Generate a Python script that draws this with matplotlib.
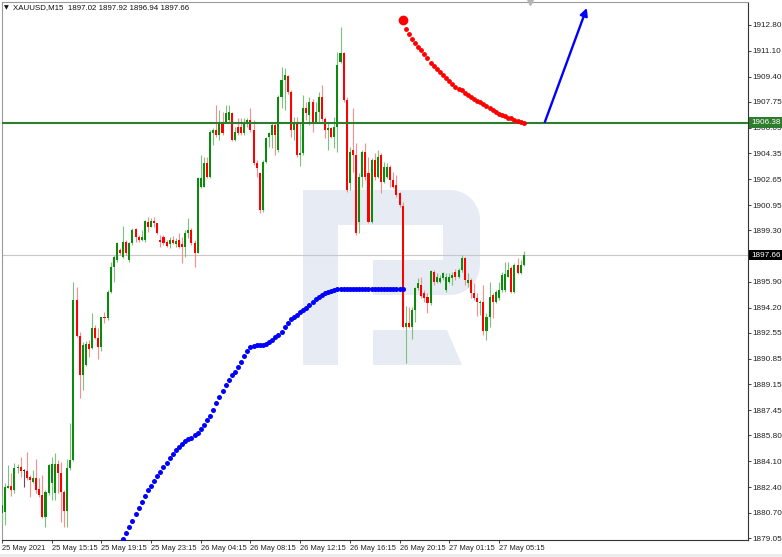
import numpy as np
import matplotlib
matplotlib.use('Agg')
import matplotlib.pyplot as plt
from matplotlib.patches import Polygon, Rectangle
import matplotlib.transforms as mtransforms

plt.rcParams.update({
    'font.family': ['Liberation Sans', 'DejaVu Sans'],
    'font.size': 5.9,
})

# --- XAUUSD M15 candles (one entry per bar, left to right) ---
opens = [1880.67, 1880.78, 1882.36, 1882.49, 1882.21, 1883.63, 1883.74, 1883.48, 1883.48, 1883.09,
         1882.76, 1882.98, 1882.25, 1881.88, 1880.45, 1881.99, 1882.65, 1881.99, 1883.92, 1883.30,
         1882.10, 1880.85, 1883.63, 1884.18, 1894.71, 1892.34, 1889.77, 1890.43, 1891.81, 1891.53,
         1892.84, 1892.19, 1891.64, 1893.61, 1893.50, 1895.26, 1896.90, 1897.34, 1898.00, 1897.56,
         1898.54, 1897.34, 1898.43, 1899.35, 1898.87, 1898.65, 1898.65, 1899.86, 1899.53, 1899.92,
         1899.75, 1898.65, 1898.87, 1898.54, 1898.39, 1898.65, 1898.39, 1898.65, 1898.39, 1898.21,
         1899.09, 1899.31, 1898.43, 1897.82, 1902.16, 1902.16, 1903.70, 1902.82, 1905.67, 1905.89,
         1905.56, 1906.44, 1906.44, 1906.55, 1907.03, 1905.23, 1906.11, 1906.11, 1905.67, 1906.33,
         1906.55, 1905.89, 1903.70, 1903.04, 1900.63, 1903.81, 1905.45, 1905.56, 1906.22, 1904.58,
         1908.09, 1909.18, 1909.45, 1908.42, 1905.89, 1906.33, 1904.25, 1904.36, 1907.32, 1906.88,
         1907.76, 1906.44, 1907.10, 1908.09, 1906.60, 1905.89, 1906.00, 1905.45, 1906.11, 1910.39,
         1910.94, 1907.87, 1902.38, 1904.58, 1904.25, 1899.86, 1902.82, 1904.47, 1903.04, 1899.86,
         1903.92, 1902.82, 1904.25, 1902.49, 1902.82, 1903.48, 1902.60, 1902.27, 1901.73, 1900.90,
         1892.95, 1893.22, 1892.95, 1894.05, 1895.47, 1895.69, 1895.14, 1894.93, 1894.49, 1896.57,
         1895.91, 1895.91, 1896.13, 1895.36, 1895.91, 1896.13, 1896.57, 1896.24, 1896.68, 1897.45,
         1895.80, 1896.02, 1895.14, 1894.82, 1894.49, 1894.60, 1892.70, 1893.61, 1895.03, 1894.60,
         1894.82, 1895.36, 1895.36, 1896.24, 1896.79, 1895.25, 1897.01, 1896.50, 1897.02]
highs = [1881.88, 1882.65, 1883.85, 1883.30, 1883.96, 1883.92, 1884.40, 1883.57, 1884.73, 1883.20,
         1883.52, 1884.23, 1882.98, 1883.20, 1882.21, 1883.92, 1884.40, 1884.66, 1884.18, 1884.07,
         1882.21, 1884.23, 1886.59, 1895.91, 1895.54, 1892.62, 1891.97, 1892.03, 1892.08, 1893.88,
         1893.06, 1892.84, 1893.61, 1893.94, 1895.37, 1897.23, 1897.67, 1898.54, 1898.10, 1899.57,
         1898.65, 1898.54, 1899.42, 1899.42, 1898.98, 1899.31, 1899.97, 1900.19, 1900.08, 1900.19,
         1899.79, 1898.98, 1898.98, 1898.65, 1898.87, 1898.91, 1898.76, 1899.09, 1898.87, 1899.31,
         1900.08, 1899.42, 1898.65, 1902.77, 1904.24, 1904.13, 1904.13, 1905.89, 1906.00, 1907.53,
         1907.20, 1907.09, 1907.53, 1907.53, 1907.09, 1906.11, 1906.66, 1906.66, 1906.66, 1906.66,
         1907.31, 1906.55, 1903.92, 1903.15, 1903.92, 1905.45, 1905.78, 1906.33, 1906.44, 1908.20,
         1910.06, 1909.99, 1909.51, 1908.53, 1906.77, 1906.77, 1906.33, 1908.20, 1907.76, 1908.04,
         1907.91, 1907.76, 1908.42, 1908.85, 1906.77, 1906.33, 1906.11, 1906.77, 1911.05, 1912.69,
         1911.05, 1908.09, 1904.80, 1907.32, 1905.02, 1903.04, 1904.58, 1905.02, 1904.14, 1904.03,
         1904.36, 1904.58, 1904.36, 1903.81, 1903.70, 1903.59, 1903.15, 1902.93, 1901.84, 1901.18,
         1894.31, 1894.27, 1894.27, 1895.58, 1896.13, 1896.20, 1895.36, 1895.14, 1896.68, 1896.68,
         1896.46, 1896.35, 1896.57, 1896.46, 1896.46, 1896.57, 1896.72, 1896.79, 1897.67, 1897.56,
         1896.46, 1896.13, 1895.80, 1895.14, 1894.71, 1895.69, 1893.83, 1895.91, 1895.14, 1895.36,
         1895.91, 1896.57, 1897.23, 1897.23, 1896.94, 1897.16, 1897.45, 1897.34, 1897.92]
lows = [1880.02, 1879.91, 1882.32, 1881.84, 1881.99, 1883.30, 1883.09, 1882.43, 1882.87, 1881.77,
        1882.65, 1881.99, 1881.77, 1880.34, 1879.80, 1881.88, 1881.55, 1881.55, 1881.99, 1880.13,
        1879.80, 1879.80, 1883.52, 1884.14, 1892.30, 1888.24, 1888.79, 1890.37, 1890.98, 1891.46,
        1892.12, 1890.81, 1891.38, 1893.17, 1893.39, 1895.15, 1895.91, 1897.23, 1897.67, 1897.45,
        1897.67, 1897.23, 1898.32, 1898.54, 1898.54, 1898.61, 1898.54, 1899.20, 1899.49, 1899.53,
        1899.05, 1898.21, 1898.32, 1898.17, 1898.10, 1898.39, 1898.21, 1898.10, 1897.16, 1897.56,
        1898.76, 1898.32, 1896.90, 1897.77, 1902.05, 1902.12, 1902.71, 1902.71, 1904.90, 1905.45,
        1905.23, 1905.56, 1906.33, 1906.44, 1905.19, 1905.19, 1905.56, 1905.56, 1905.56, 1906.11,
        1905.78, 1903.59, 1902.82, 1900.41, 1900.52, 1903.70, 1904.80, 1904.69, 1904.25, 1904.47,
        1907.32, 1907.21, 1908.26, 1905.45, 1905.23, 1904.14, 1903.52, 1904.25, 1906.55, 1906.22,
        1905.78, 1906.33, 1906.44, 1906.51, 1905.34, 1904.58, 1905.34, 1904.69, 1904.47, 1910.28,
        1907.76, 1901.84, 1901.95, 1903.15, 1898.99, 1899.10, 1902.16, 1902.60, 1899.75, 1899.75,
        1902.60, 1902.71, 1901.73, 1902.38, 1902.71, 1902.16, 1902.05, 1901.51, 1900.85, 1892.84,
        1890.58, 1892.84, 1892.12, 1893.28, 1895.36, 1894.82, 1894.60, 1893.87, 1894.38, 1895.69,
        1895.80, 1895.80, 1896.02, 1895.25, 1895.80, 1895.69, 1896.02, 1896.13, 1896.57, 1895.69,
        1895.58, 1894.82, 1894.71, 1893.65, 1893.72, 1892.40, 1892.08, 1892.95, 1893.50, 1894.49,
        1894.71, 1895.25, 1895.25, 1896.20, 1895.19, 1895.19, 1896.42, 1896.42, 1896.94]
closes = [1881.22, 1882.43, 1882.49, 1882.21, 1883.63, 1883.74, 1883.48, 1883.48, 1882.98, 1882.87,
          1882.98, 1882.21, 1881.88, 1880.45, 1882.10, 1883.85, 1883.92, 1883.92, 1883.30, 1882.10,
          1880.85, 1883.63, 1884.18, 1894.71, 1892.34, 1889.77, 1891.75, 1891.81, 1891.46, 1892.84,
          1892.19, 1891.64, 1893.61, 1893.50, 1895.26, 1896.90, 1897.56, 1898.43, 1897.80, 1898.54,
          1897.77, 1898.43, 1899.31, 1898.87, 1898.65, 1898.87, 1899.92, 1899.53, 1899.92, 1899.75,
          1899.09, 1898.54, 1898.43, 1898.26, 1898.65, 1898.43, 1898.61, 1898.21, 1898.21, 1899.09,
          1899.31, 1898.43, 1897.82, 1902.71, 1902.71, 1903.70, 1902.82, 1905.78, 1905.89, 1905.56,
          1906.44, 1905.67, 1906.98, 1907.09, 1905.23, 1905.78, 1905.67, 1905.67, 1906.44, 1906.55,
          1905.89, 1903.70, 1903.37, 1900.63, 1903.81, 1905.34, 1905.67, 1906.22, 1905.56, 1908.09,
          1909.18, 1909.51, 1908.42, 1905.89, 1906.33, 1904.25, 1904.36, 1907.32, 1906.99, 1907.76,
          1906.44, 1907.10, 1908.09, 1906.60, 1905.89, 1906.00, 1905.45, 1906.11, 1910.17, 1910.94,
          1907.87, 1901.95, 1904.47, 1904.25, 1899.10, 1902.82, 1904.47, 1902.82, 1899.86, 1903.92,
          1902.82, 1904.14, 1902.49, 1903.48, 1903.48, 1902.60, 1902.16, 1901.62, 1900.96, 1892.95,
          1893.22, 1892.95, 1894.05, 1895.47, 1895.80, 1894.97, 1894.82, 1894.49, 1896.64, 1895.91,
          1896.24, 1896.13, 1896.46, 1896.24, 1896.24, 1896.35, 1896.24, 1896.68, 1897.45, 1896.02,
          1896.02, 1895.14, 1894.82, 1894.60, 1894.60, 1892.70, 1893.61, 1894.93, 1894.60, 1895.25,
          1895.36, 1896.35, 1896.42, 1896.68, 1895.25, 1897.01, 1896.46, 1897.01, 1897.66]

# blue dotted indicator, one dot per bar starting at bar 39
blue_start = 39
blue_dots = [1879.0, 1879.4, 1879.8, 1880.2, 1880.6, 1881.0, 1881.4, 1881.8, 1882.2, 1882.5,
             1882.8, 1883.1, 1883.4, 1883.7, 1884.0, 1884.3, 1884.6, 1884.85, 1885.05, 1885.25,
             1885.4, 1885.55, 1885.65, 1885.8, 1885.95, 1886.2, 1886.5, 1886.8, 1887.1, 1887.5,
             1887.9, 1888.3, 1888.7, 1889.1, 1889.45, 1889.75, 1890.0, 1890.3, 1890.65, 1891.0,
             1891.35, 1891.6, 1891.7, 1891.75, 1891.75, 1891.75, 1891.8, 1891.95, 1892.1, 1892.25,
             1892.4, 1892.6, 1892.9, 1893.2, 1893.45, 1893.6, 1893.75, 1893.9, 1894.05, 1894.2,
             1894.4, 1894.55, 1894.75, 1894.9, 1895.05, 1895.15, 1895.25, 1895.3, 1895.35, 1895.4,
             1895.43, 1895.43, 1895.43, 1895.43, 1895.43, 1895.43, 1895.43, 1895.43, 1895.43, 1895.43,
             1895.43, 1895.43, 1895.43, 1895.43, 1895.43, 1895.43, 1895.43, 1895.43, 1895.43, 1895.43,
             1895.43]

# red dotted forecast, one dot per bar starting at bar 129
red_start = 129
red_dots = [1913.13, 1912.55, 1912.2, 1911.9, 1911.6, 1911.35, 1911.15, 1910.9, 1910.6, 1910.3,
            1910.1, 1909.9, 1909.7, 1909.5, 1909.3, 1909.1, 1908.9, 1908.75, 1908.6, 1908.5,
            1908.35, 1908.2, 1908.05, 1907.9, 1907.8, 1907.7, 1907.6, 1907.45, 1907.35, 1907.2,
            1907.05, 1906.95, 1906.9, 1906.8, 1906.7, 1906.65, 1906.55, 1906.45, 1906.4, 1906.35]

arrow_from = (174.8, 1906.42)
arrow_to = (188.3, 1913.92)
level_price = 1906.38
bid_price = 1897.66

price_ticks = [1912.80, 1911.10, 1909.40, 1907.75, 1906.05, 1904.35, 1902.65, 1900.95, 1899.30,
               1895.90, 1894.20, 1892.55, 1890.85, 1889.15, 1887.45, 1885.80, 1884.10, 1882.40,
               1880.70, 1879.05]
time_ticks = [0, 16, 32, 48, 64, 80, 96, 112, 128, 144, 160]
time_labels = ['25 May 2021', '25 May 15:15', '25 May 19:15', '25 May 23:15', '26 May 04:15',
               '26 May 08:15', '26 May 12:15', '26 May 16:15', '26 May 20:15', '27 May 01:15',
               '27 May 05:15']
header = 'XAUUSD,M15  1897.02 1897.92 1896.94 1897.66'

W, H = 782, 557
fig = plt.figure(figsize=(W / 100, H / 100), dpi=100)
ax = fig.add_axes([1.5 / W, 17 / H, 746.5 / W, 538 / H])
ax.set_xlim(-0.16, 240.2)
ax.set_ylim(1878.92, 1914.31)


def px(x, y):
    # image pixel -> axes fraction (for the watermark only)
    return ((x - 1.5) / 746.5, (540 - y) / 538)


# watermark "R"
wm = '#e6ebf4'
shapes = [
    [(303, 190), (338, 190), (338, 365), (303, 365)],
    [(303, 190), (450, 190), (450, 225), (303, 225)],
    [(373, 260), (450, 260), (450, 295), (373, 295)],
    [(373, 330), (447, 330), (462, 365), (373, 365)],
]
t = np.linspace(0, np.pi / 2, 12)
bowl = [(443, 190)]
bowl += [(450 + 30 * np.sin(a), 220 - 30 * np.cos(a)) for a in t]
bowl += [(450 + 30 * np.cos(a), 265 + 30 * np.sin(a)) for a in t]
bowl += [(443, 295)]
shapes.append(bowl)
for s in shapes:
    ax.add_patch(Polygon([px(*p) for p in s], closed=True, transform=ax.transAxes,
                         facecolor=wm, edgecolor='none', zorder=0.5))

# candles
x = np.arange(len(opens))
o = np.array(opens)
c = np.array(closes)
body_col, wick_col = [], []
for oo, cc in zip(o, c):
    if cc > oo:
        body_col.append('#0b8a0b'); wick_col.append('#7cc27c')
    elif cc < oo:
        body_col.append('#ff0000'); wick_col.append('#ff8c8c')
    else:
        body_col.append('#222222'); wick_col.append('#555555')
ax.vlines(x, lows, highs, colors=wick_col, lw=0.8, zorder=3)
ax.bar(x, np.maximum(np.abs(c - o), 0.05), bottom=np.minimum(o, c), width=0.66,
       color=body_col, linewidth=0, zorder=4)

ax.axhline(bid_price, color='#c8c8c8', lw=0.8, zorder=1)
ax.axhline(level_price, color='#2e7d2e', lw=1.5, zorder=5)

bx = np.arange(blue_start, blue_start + len(blue_dots))
ax.plot(bx, blue_dots, 'o', color='#0000ff', ms=3.6, mec='none', zorder=6)
rx = np.arange(red_start, red_start + len(red_dots))
ax.plot(rx[1:], red_dots[1:], 'o', color='#ff0000', ms=3.5, mec='none', zorder=6)
ax.plot(rx[:1], red_dots[:1], 'o', color='#ff0000', ms=7, mec='none', zorder=6)

ax.annotate('', xy=arrow_to, xytext=arrow_from, zorder=7,
            arrowprops=dict(arrowstyle='-|>', color='#0000ff', lw=1.7,
                            mutation_scale=11, shrinkA=0, shrinkB=0))

# axes styling (MT4 look)
for side in ['left', 'top']:
    ax.spines[side].set_color('#9a9a9a')
for side in ['right', 'bottom']:
    ax.spines[side].set_color('#333333')
for s in ax.spines.values():
    s.set_linewidth(0.8)

ax.yaxis.tick_right()
ax.set_yticks(price_ticks, [f'{p:.2f}' for p in price_ticks])
ax.tick_params(axis='y', length=2, width=0.6, pad=1.5, labelsize=5.9, colors='#222222')
ax.set_xticks(time_ticks, time_labels)
ax.tick_params(axis='x', length=2, width=0.6, pad=1.5, labelsize=5.4, colors='#222222')
for lab in ax.get_xticklabels():
    lab.set_horizontalalignment('left')

# price tags on the right scale
blend = mtransforms.blended_transform_factory(ax.transAxes, ax.transData)
ax.text(1.004, level_price, '1906.38', transform=blend, ha='left', va='center',
        color='white', fontsize=5.9, zorder=8, clip_on=False,
        bbox=dict(boxstyle='square,pad=0.2', fc='#2e7d2e', ec='none'))
ax.text(1.004, bid_price, '1897.66', transform=blend, ha='left', va='center',
        color='white', fontsize=5.9, zorder=8, clip_on=False,
        bbox=dict(boxstyle='square,pad=0.2', fc='#000000', ec='none'))

# shift marker at top
ax.plot([170], [1914.31], marker='v', ms=4, color='#b4b4b4', clip_on=False, zorder=8)

# thin grey strip along the bottom edge of the window
fig.patches.append(Rectangle((0, 0), 1, 3 / H, transform=fig.transFigure,
                             facecolor='#ececec', edgecolor='none'))

fig.text(4 / W, 1 - 7.5 / H, '\u25bc', fontsize=4.5, va='center', ha='left',
         family=['DejaVu Sans'], color='#111111')
fig.text(13 / W, 1 - 7.5 / H, header, fontsize=5.7, va='center', ha='left', color='#111111')

plt.savefig('out.png', dpi=100)
